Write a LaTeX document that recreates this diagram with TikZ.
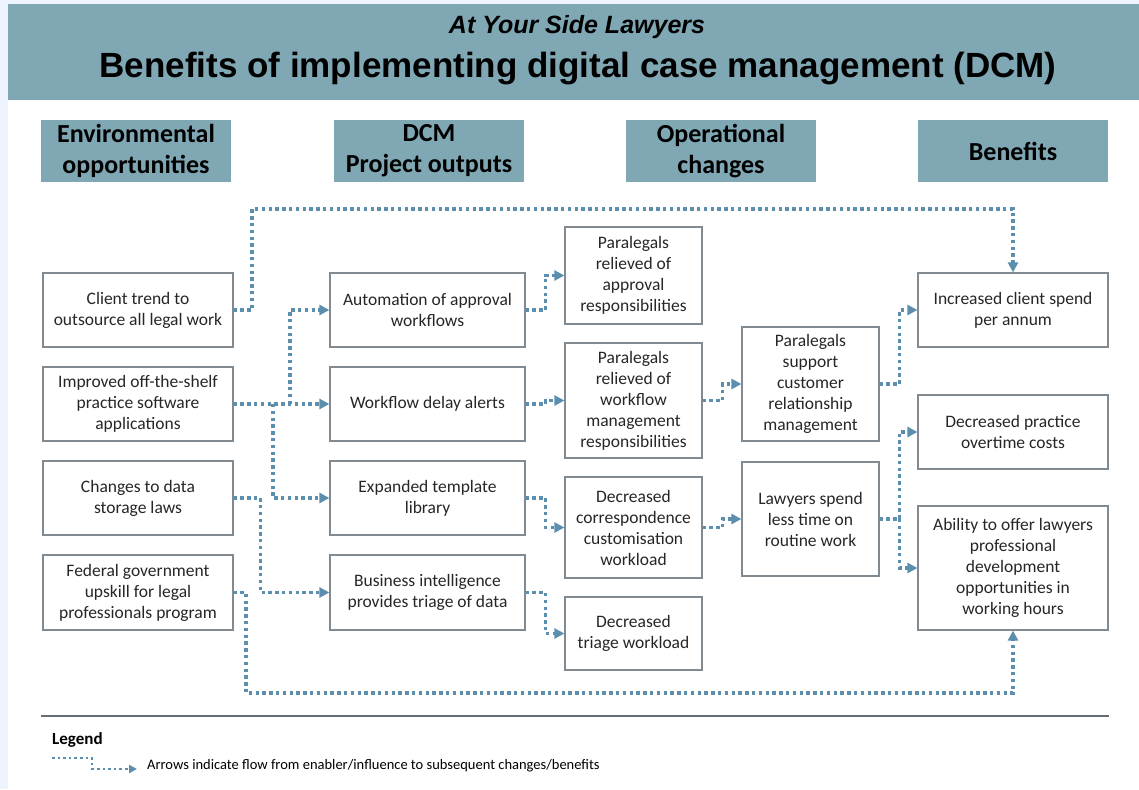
\documentclass[tikz,border=0pt]{standalone}
\usepackage{fontspec}
\setmainfont{Carlito}
\newfontfamily\arialf{Liberation Sans}
\usetikzlibrary{arrows.meta}
\definecolor{hdr}{RGB}{128,168,180}
\definecolor{flowc}{RGB}{92,142,174}
\definecolor{bord}{RGB}{128,138,144}
\definecolor{strip}{RGB}{238,244,253}
\tikzset{
  box/.style={draw=bord,line width=1.2pt,fill=white,align=center,inner sep=0pt,
    font=\fontsize{17.5}{21}\selectfont,text=black!85},
  colhead/.style={fill=hdr,align=center,inner sep=0pt,minimum width=190pt,minimum height=62pt,
    font=\fontsize{26}{31}\selectfont\bfseries},
  flow/.style={draw=flowc,line width=3.4pt,dash pattern=on 3.4pt off 3.4pt,
    -{Triangle[length=10pt,width=10pt]}},
}
\begin{document}
\begin{tikzpicture}[x=1pt,y=-1pt]
\useasboundingbox (0,0) rectangle (1139,789);
\fill[white] (0,0) rectangle (1139,789);
\fill[strip] (0,0) rectangle (8,789);
\fill[strip] (0,0) rectangle (1139,4);
% header band
\fill[hdr] (8,4) rectangle (1139,100);
\node[font=\arialf\fontsize{25}{28}\selectfont\bfseries\itshape] (sub) at (577,27) {At Your Side Lawyers};
\node[font=\arialf\fontsize{35}{38}\selectfont\bfseries] (title) at (578,69) {Benefits of implementing digital case management (DCM)};
% column headers
\node[colhead] (h1) at (136,151) {Environmental\\opportunities};
\node[colhead] (h2) at (429,151) {DCM\\Project outputs};
\node[colhead] (h3) at (721,151) {Operational\\changes};
\node[colhead] (h4) at (1013,151) {Benefits};
% column 1
\node[box,minimum width=190pt,minimum height=74pt] (c1) at (138,310) {Client trend to\\outsource all legal work};
\node[box,minimum width=190pt,minimum height=74pt] (c2) at (138,404) {Improved off-the-shelf\\practice software\\applications};
\node[box,minimum width=190pt,minimum height=74pt] (c3) at (138,498) {Changes to data\\storage laws};
\node[box,minimum width=190pt,minimum height=75pt] (c4) at (138,592.5) {Federal government\\upskill for legal\\professionals program};
% column 2
\node[box,minimum width=195pt,minimum height=74pt] (d1) at (427.5,310) {Automation of approval\\workflows};
\node[box,minimum width=195pt,minimum height=74pt] (d2) at (427.5,404) {Workflow delay alerts};
\node[box,minimum width=195pt,minimum height=74pt] (d3) at (427.5,498) {Expanded template\\library};
\node[box,minimum width=195pt,minimum height=75pt] (d4) at (427.5,592.5) {Business intelligence\\provides triage of data};
% column 3a
\node[box,minimum width=137pt,minimum height=97pt] (e1) at (633.5,275.5) {Paralegals\\relieved of\\approval\\responsibilities};
\node[box,minimum width=137pt,minimum height=115pt] (e2) at (633.5,400.5) {Paralegals\\relieved of\\workflow\\management\\responsibilities};
\node[box,minimum width=137pt,minimum height=101pt] (e3) at (633.5,527.5) {Decreased\\correspondence\\customisation\\workload};
\node[box,minimum width=137pt,minimum height=73pt] (e4) at (633.5,633.5) {Decreased\\triage workload};
% column 3b
\node[box,minimum width=137pt,minimum height=114pt] (f1) at (810.5,384) {Paralegals\\support\\customer\\relationship\\management};
\node[box,minimum width=137pt,minimum height=114pt] (f2) at (810.5,519) {Lawyers spend\\less time on\\routine work};
% column 4
\node[box,minimum width=190pt,minimum height=74pt] (g1) at (1013,310) {Increased client spend\\per annum};
\node[box,minimum width=190pt,minimum height=74pt] (g2) at (1013,432) {Decreased practice\\overtime costs};
\node[box,minimum width=190pt,minimum height=124pt] (g3) at (1013,568) {Ability to offer lawyers\\professional\\development\\opportunities in\\working hours};
% connectors
\coordinate (t1) at (252,209);
\coordinate (b1) at (246,693);
\coordinate (s1) at (290,404);
\coordinate (s2) at (273,404);
\draw[flow] (c1.east) -| (t1) -| (g1.north);
\draw[flow] (c4.east) -| (b1) -| (g3.south);
\draw[flow] (c2.east) -- (d2.west);
\draw[flow] (s1) |- (d1.west);
\draw[flow] (s2) |- (d3.west);
\draw[flow] (c3.east) -- ++(27,0) |- (d4.west);
\draw[flow] (d1.east) -- ++(20,0) |- (e1.west);
\draw[flow] (d2.east) -- ++(20,0) |- (e2.west);
\draw[flow] (d3.east) -- ++(20,0) |- (e3.west);
\draw[flow] (d4.east) -- ++(20,0) |- (e4.west);
\draw[flow] (e2.east) -- ++(20,0) |- (f1.west);
\draw[flow] (e3.east) -- ++(20,0) |- (f2.west);
\draw[flow] (f1.east) -- ++(20,0) |- (g1.west);
\draw[flow] (f2.east) -- ++(20,0) |- (g2.west);
\draw[flow] (f2.east) ++(20,0) |- (g3.west);
% legend
\coordinate (r1) at (41,716);
\coordinate (r2) at (1109,716);
\draw[bord!80!black,line width=1.2pt] (r1) -- (r2);
\node[anchor=west,font=\fontsize{17}{20}\selectfont\bfseries,inner sep=0pt] (leg) at (52,740) {Legend};
\coordinate (l1) at (52,758);
\coordinate (l2) at (137,769);
\draw[draw=flowc,line width=2.6pt,dash pattern=on 2.6pt off 3pt,-{Triangle[length=8pt,width=8pt]}] (l1) -- (92,758) |- (l2);
\node[anchor=west,font=\fontsize{14.5}{17}\selectfont,inner sep=0pt] (legt) at (147,766) {Arrows indicate flow from enabler/influence to subsequent changes/benefits};
\end{tikzpicture}
\end{document}
